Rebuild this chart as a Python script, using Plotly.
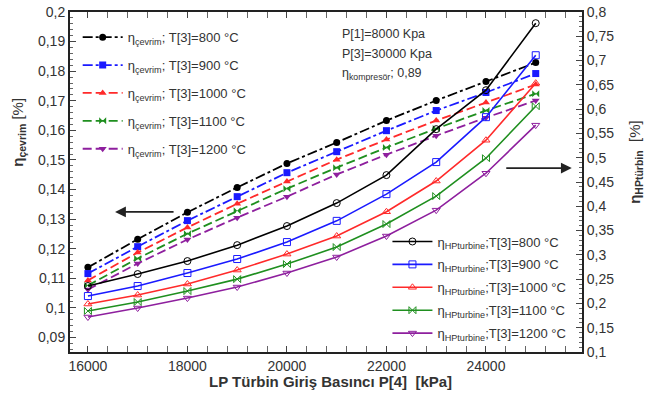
import plotly.graph_objects as go

pressure = [16000, 17000, 18000, 19000, 20000, 21000, 22000, 23000, 24000, 25000]
temps = ["800", "900", "1000", "1100", "1200"]

cycle_800 = [0.1137, 0.1232, 0.1323, 0.1407, 0.1488, 0.1559, 0.1633, 0.1701, 0.1765, 0.1829]
cycle_900 = [0.1116, 0.1207, 0.1295, 0.1376, 0.1457, 0.1528, 0.1599, 0.1667, 0.1728, 0.1792]
cycle_1000 = [0.1093, 0.1187, 0.1272, 0.1352, 0.1427, 0.1501, 0.1569, 0.1633, 0.1694, 0.1755]
cycle_1100 = [0.1076, 0.1167, 0.1251, 0.1328, 0.1403, 0.1474, 0.1542, 0.1606, 0.1667, 0.1724]
cycle_1200 = [0.1062, 0.1150, 0.1231, 0.1305, 0.1376, 0.1451, 0.1518, 0.1582, 0.1643, 0.1701]

hp_800 = [0.2358, 0.2605, 0.2872, 0.3200, 0.3593, 0.4066, 0.4642, 0.5588, 0.6390, 0.7770]
hp_900 = [0.2152, 0.2358, 0.2626, 0.2914, 0.3263, 0.3700, 0.4250, 0.4910, 0.5835, 0.7110]
hp_1000 = [0.1988, 0.2173, 0.2400, 0.2687, 0.3016, 0.3387, 0.3887, 0.4520, 0.5360, 0.6535]
hp_1100 = [0.1844, 0.2029, 0.2255, 0.2500, 0.2810, 0.3160, 0.3634, 0.4210, 0.4990, 0.6060]
hp_1200 = [0.1720, 0.1905, 0.2110, 0.2337, 0.2626, 0.2955, 0.3387, 0.3920, 0.4680, 0.5670]

x_ticks = [16000, 18000, 20000, 22000, 24000]
y_ticks = [0.09, 0.10, 0.11, 0.12, 0.13, 0.14, 0.15, 0.16, 0.17, 0.18, 0.19, 0.20]
y2_ticks = [0.10, 0.15, 0.20, 0.25, 0.30, 0.35, 0.40, 0.45, 0.50, 0.55, 0.60, 0.65, 0.70, 0.75, 0.80]


def fmt(v):
    s = ("%.2f" % v).rstrip("0").rstrip(".")
    return s.replace(".", ",")


colors = ["#000000", "#1a1aff", "#ff2a2a", "#1f8f1f", "#8e1f9e"]
cycle_data = [cycle_800, cycle_900, cycle_1000, cycle_1100, cycle_1200]
hp_data = [hp_800, hp_900, hp_1000, hp_1100, hp_1200]
cyc_symbols = ["circle", "square", "triangle-up", "bowtie", "triangle-down"]
hp_symbols = ["circle-open", "square-open", "triangle-up-open", "bowtie-open", "triangle-down-open"]
cyc_dash = ["10px,3px,3px,3px", "10px,3px,3px,3px", "9px,4px", "9px,4px", "9px,4px"]

fig = go.Figure()

for i, t in enumerate(temps):
    fig.add_trace(go.Scatter(
        x=pressure, y=cycle_data[i], mode="lines+markers",
        name="η<sub>çevrim</sub>; T[3]=%s °C" % t,
        line=dict(color=colors[i], width=1.8, dash=cyc_dash[i]),
        marker=dict(symbol=cyc_symbols[i], size=7, color=colors[i]),
        legend="legend", legendgroup="c%d" % i,
    ))

for i, t in enumerate(temps):
    fig.add_trace(go.Scatter(
        x=pressure, y=hp_data[i], mode="lines+markers", yaxis="y2",
        name="η<sub>HPturbine</sub>;T[3]=%s °C" % t,
        line=dict(color=colors[i], width=1.6),
        marker=dict(symbol=hp_symbols[i], size=7, color=colors[i], line=dict(width=1)),
        legend="legend2", legendgroup="h%d" % i,
    ))

tick_font = dict(family="Liberation Sans, Arial, sans-serif", size=14, color="#333333")

fig.update_layout(
    template="none",
    width=656, height=396,
    margin=dict(l=70, r=74, t=12, b=44, autoexpand=False),
    paper_bgcolor="white", plot_bgcolor="white",
    font=dict(family="Liberation Sans, Arial, sans-serif", color="#333333"),
    xaxis=dict(
        range=[15640, 25930], showgrid=False, zeroline=False, automargin=False,
        showline=True, linecolor="#222222", linewidth=2, mirror="allticks",
        ticks="inside", ticklen=6, tickcolor="#444444",
        tickvals=x_ticks, ticktext=[str(v) for v in x_ticks], tickfont=tick_font,
        minor=dict(dtick=400, tick0=16000, ticks="inside", ticklen=3, tickcolor="#666666"),
    ),
    yaxis=dict(
        range=[0.0851, 0.2], showgrid=False, zeroline=False, automargin=False,
        showline=True, linecolor="#222222", linewidth=2,
        ticks="inside", ticklen=6, tickcolor="#444444",
        tickvals=y_ticks, ticktext=[fmt(v) for v in y_ticks], tickfont=tick_font,
        minor=dict(dtick=0.002, tick0=0.09, ticks="inside", ticklen=3, tickcolor="#666666"),
    ),
    yaxis2=dict(
        range=[0.1, 0.8], overlaying="y", side="right", showgrid=False, zeroline=False,
        automargin=False,
        showline=True, linecolor="#222222", linewidth=2,
        ticks="inside", ticklen=6, tickcolor="#444444",
        tickvals=y2_ticks, ticktext=[fmt(v) for v in y2_ticks], tickfont=tick_font,
        minor=dict(dtick=0.01, tick0=0.1, ticks="inside", ticklen=3, tickcolor="#666666"),
    ),
    legend=dict(
        x=0.015, y=0.97, xanchor="left", yanchor="top",
        bgcolor="rgba(0,0,0,0)", font=dict(size=13, color="#333333"),
        tracegroupgap=8, itemwidth=40,
    ),
    legend2=dict(
        x=0.62, y=0.369, xanchor="left", yanchor="top",
        bgcolor="rgba(0,0,0,0)", font=dict(size=13, color="#333333"),
        tracegroupgap=3, itemwidth=40,
    ),
    annotations=[
        dict(text="P[1]=8000 Kpa", xref="paper", yref="paper", x=0.527, y=0.935,
             xanchor="left", yanchor="middle", showarrow=False, font=dict(size=12.5, color="#333333")),
        dict(text="P[3]=30000 Kpa", xref="paper", yref="paper", x=0.527, y=0.876,
             xanchor="left", yanchor="middle", showarrow=False, font=dict(size=12.5, color="#333333")),
        dict(text="η<sub>kompresör</sub>; 0,89", xref="paper", yref="paper", x=0.527, y=0.818,
             xanchor="left", yanchor="middle", showarrow=False, font=dict(size=12.5, color="#333333")),
        dict(text="", xref="paper", yref="paper", x=0.088, y=0.412, ax=60, ay=0,
             showarrow=True, arrowhead=2, arrowsize=1.2, arrowwidth=1.8, arrowcolor="#222222"),
        dict(text="", xref="paper", yref="paper", x=0.980, y=0.541, ax=-67, ay=0,
             showarrow=True, arrowhead=2, arrowsize=1.2, arrowwidth=1.8, arrowcolor="#222222"),
        dict(text="<b>η<sub>çevrim</sub></b> [%]", xref="paper", yref="paper", x=-0.102, y=0.647,
             xanchor="center", yanchor="middle", textangle=-90, showarrow=False,
             font=dict(size=15, color="#333333")),
        dict(text="<b>η<sub>HPtürbin</sub></b>  [%]", xref="paper", yref="paper", x=1.104, y=0.56,
             xanchor="center", yanchor="middle", textangle=-90, showarrow=False,
             font=dict(size=15, color="#333333")),
        dict(text="<b>LP Türbin Giriş Basıncı P[4]  [kPa]</b>", xref="paper", yref="paper",
             x=0.508, y=-0.088, xanchor="center", yanchor="middle", showarrow=False,
             font=dict(size=15, color="#333333")),
    ],
)

fig.write_html("out.html")
